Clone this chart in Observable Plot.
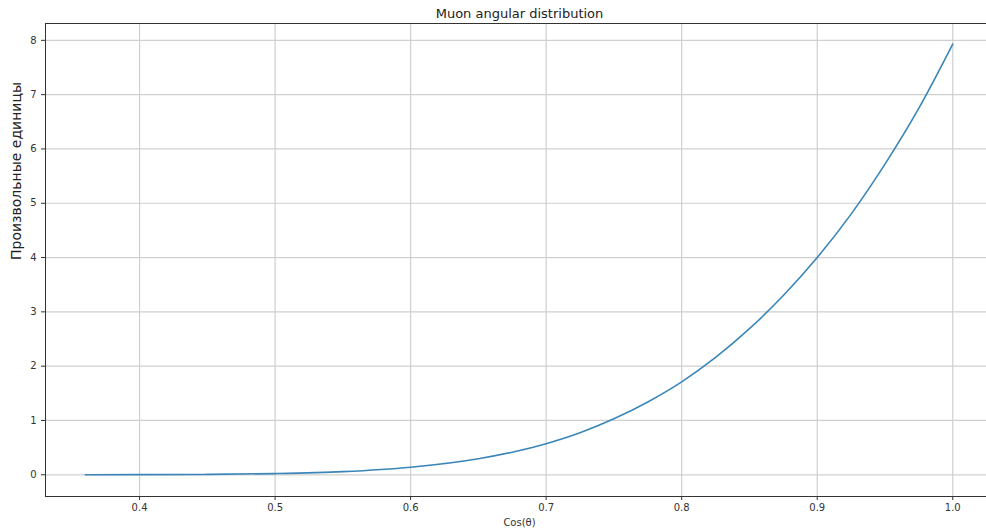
<!DOCTYPE html>
<html>
<head>
<meta charset="utf-8">
<script src="https://cdn.jsdelivr.net/npm/d3@7"></script>
<script src="https://cdn.jsdelivr.net/npm/@observablehq/plot@0.6"></script>
<style>
  html, body { margin: 0; padding: 0; background: #fff; }
  #chart svg { display: block; }
</style>
</head>
<body>
<div id="chart"></div>
<script>
// Data
const cosTheta  = [0.36, 0.40, 0.45, 0.50, 0.55, 0.60, 0.65, 0.675, 0.70, 0.725, 0.75, 0.775, 0.80, 0.825, 0.85, 0.875, 0.90, 0.925, 0.95, 0.975, 1.00];
const intensity = [0.001, 0.002, 0.007, 0.022, 0.058, 0.139, 0.295, 0.416, 0.573, 0.774, 1.03, 1.34, 1.71, 2.16, 2.69, 3.30, 4.00, 4.80, 5.72, 6.75, 7.93];

const xTicks = [0.4, 0.5, 0.6, 0.7, 0.8, 0.9, 1.0];
const yTicks = [0, 1, 2, 3, 4, 5, 6, 7, 8];

const titleText = "Muon angular distribution";
const xLabel = "Cos(θ)";
const yLabel = "Произвольные единицы";

const data = cosTheta.map((c, i) => ({x: c, y: intensity[i]}));

const font = "DejaVu Sans, sans-serif";
const textColor = "#333";

const chart = Plot.plot({
  width: 986,
  height: 531,
  marginLeft: 45,
  marginRight: 0,
  marginTop: 23,
  marginBottom: 35,
  style: {fontFamily: font, background: "#fff", color: textColor},
  x: {domain: [0.3306, 1.0249]},
  y: {domain: [-0.40, 8.31]},
  marks: [
    Plot.gridX(xTicks, {stroke: "#cfcfcf", strokeOpacity: 1, strokeWidth: 1.2}),
    Plot.gridY(yTicks, {stroke: "#cfcfcf", strokeOpacity: 1, strokeWidth: 1.2}),
    Plot.axisX(xTicks, {tickSize: 4, tickPadding: 3, tickFormat: d3.format(".1f"), fontSize: 10, label: null, stroke: textColor, fill: textColor}),
    Plot.axisY(yTicks, {tickSize: 4, tickPadding: 5, tickFormat: d3.format("d"), fontSize: 10, label: null, stroke: textColor, fill: textColor}),
    Plot.frame({anchor: "left", stroke: "#333", strokeWidth: 1}),
    Plot.frame({anchor: "bottom", stroke: "#333", strokeWidth: 1}),
    Plot.frame({anchor: "top", stroke: "#333", strokeWidth: 1}),
    Plot.line(data, {x: "x", y: "y", stroke: "#3a86b9", strokeWidth: 1.6, curve: "monotone-x"}),
    Plot.text([titleText], {frameAnchor: "top", text: d => d, dx: 3.5, dy: -6, lineAnchor: "bottom", fontSize: 13, fill: "#222", fontFamily: font}),
    Plot.text([xLabel], {frameAnchor: "bottom", text: d => d, dx: 3.5, dy: 29, fontSize: 10, fill: textColor, fontFamily: font}),
    Plot.text([yLabel], {frameAnchor: "left", text: d => d, rotate: -90, dx: -29, dy: 0, fontSize: 14, fill: "#222", fontFamily: font})
  ]
});
document.getElementById("chart").appendChild(chart);
</script>
</body>
</html>
